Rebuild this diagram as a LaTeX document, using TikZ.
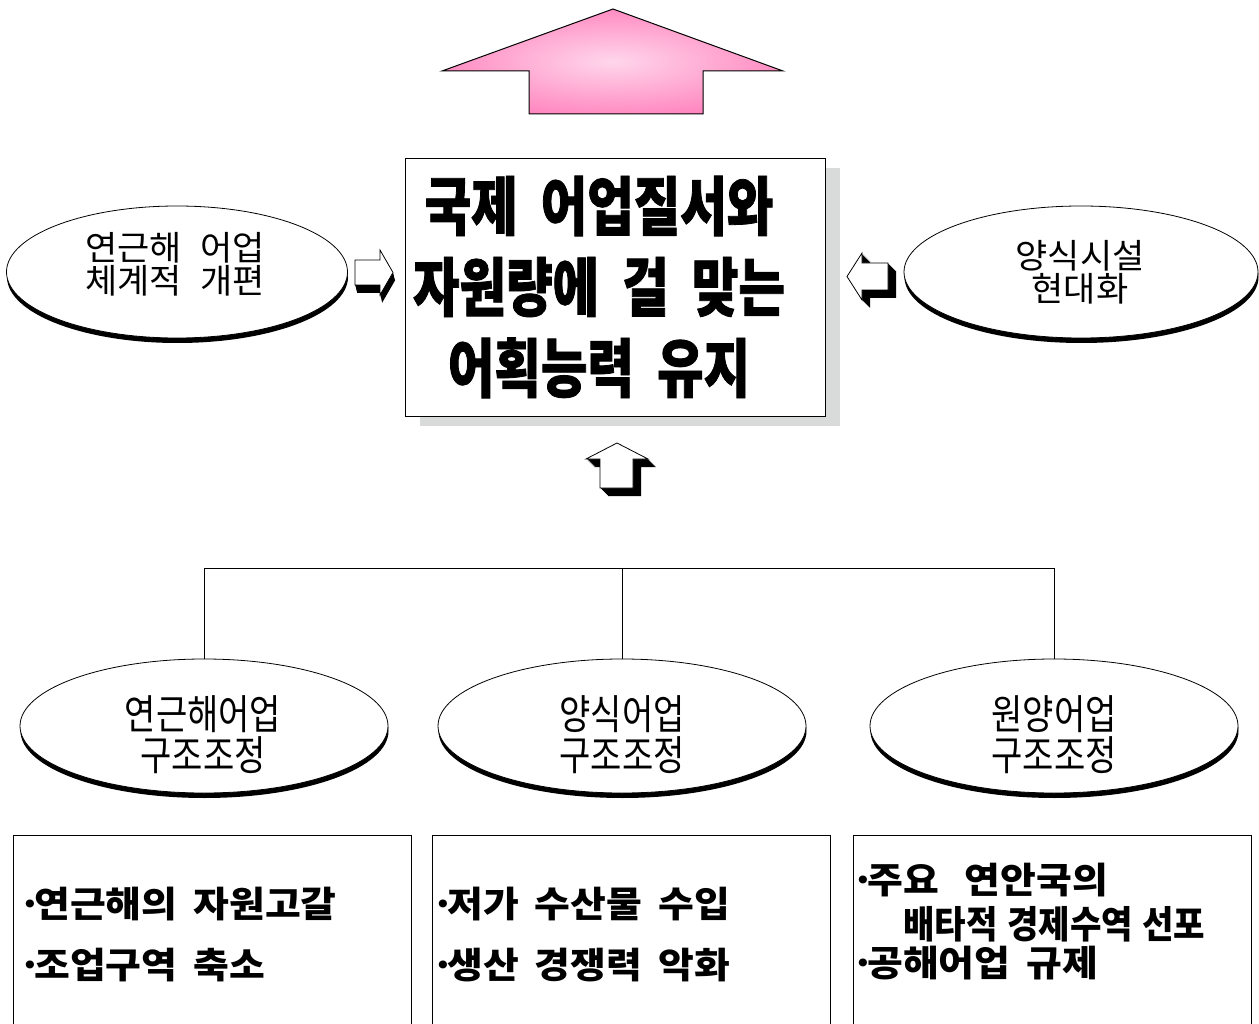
\documentclass[tikz,border=0pt]{standalone}
\usepackage{fontspec}
\usetikzlibrary{shapes.geometric,shadows}
\newfontfamily\titlefont[FakeStretch=0.79,WordSpace=2.0,FakeBold=1.2]{Noto Sans CJK KR}
\newfontfamily\elltopfont[FakeStretch=1.03,WordSpace=2.4]{Noto Sans CJK KR}
\newfontfamily\ellbotfont[FakeStretch=0.83]{Noto Sans CJK KR}
\newfontfamily\boxfont[FakeStretch=1.08,WordSpace=1.8]{Noto Sans CJK KR}
\newfontfamily\boxcondfont[FakeStretch=0.9,WordSpace=1.2]{Noto Sans CJK KR}
\newcommand\bul{\hbox to 9pt{\hss·\hss}}
\definecolor{shadowgray}{HTML}{D8DBD9}
\definecolor{pinkc}{HTML}{FFD6EB}
\definecolor{pinke}{HTML}{FF3C96}
\pgfdeclareradialshading{pinkrad}{\pgfpoint{0bp}{0bp}}{color(0bp)=(pinkc); color(52bp)=(pinke); color(75bp)=(pinke)}
\tikzset{
  oval/.style={ellipse, draw, fill=white, line width=0.8pt, inner sep=0pt,
    general shadow={fill=black, shadow xshift=0.5pt, shadow yshift=-5pt}},
  toptext/.style={align=center, inner sep=0pt, font=\elltopfont\fontsize{34}{33}\selectfont},
  bottext/.style={align=center, inner sep=0pt, font=\ellbotfont\fontsize{41}{41}\selectfont},
  listbox/.style={draw, line width=0.8pt, minimum width=398pt, minimum height=220pt, anchor=north west, inner sep=0pt},
  boxtext/.style={anchor=west, inner sep=0pt, font=\boxfont\bfseries\fontsize{36}{40}\selectfont},
  condtext/.style={anchor=west, inner sep=0pt, font=\boxcondfont\bfseries\fontsize{38}{40}\selectfont},
}
\begin{document}
\begin{tikzpicture}[x=1pt,y=-1pt,line width=0.8pt]
\useasboundingbox (0,0) rectangle (1259,1024);

% top pink arrow
\shadedraw[shading=pinkrad, draw=black, line width=1pt] (613,9) -- (783,71) -- (703,71) -- (703,114) -- (529,114) -- (529,71) -- (442,71) -- cycle;

% central goal box
\node[draw, fill=white, minimum width=420pt, minimum height=258pt, inner sep=0pt,
  general shadow={fill=shadowgray, shadow xshift=15pt, shadow yshift=-10pt}] (goal) at (615,287) {};
\node[align=center, inner sep=0pt, font=\titlefont\bfseries\fontsize{64}{81}\selectfont] (goalT) at (599,287)
  {국제 어업질서와\\자원량에 걸 맞는\\어획능력 유지};

% top ellipses
\node[oval, minimum width=341pt, minimum height=132pt] (coast) at (177,272) {};
\node[toptext] (coastT) at (175,264) {연근해 어업\\체계적 개편};
\node[oval, minimum width=354pt, minimum height=132pt] (aqua) at (1081,272) {};
\node[toptext] (aquaT) at (1080,272) {양식시설\\현대화};

% small 3D arrows
\foreach \k in {1,...,8}{\fill[shift={(0.25*\k,\k)}] (355,260) -- (380,260) -- (380,250) -- (393,272.5) -- (380,295) -- (380,285) -- (355,285) -- cycle;}
\draw[fill=white] (355,260) -- (380,260) -- (380,250) -- (393,272.5) -- (380,295) -- (380,285) -- (355,285) -- cycle;

\foreach \k in {1,...,8}{\fill[shift={(\k,\k)}] (888,263) -- (862,263) -- (862,253) -- (847,276.5) -- (862,300) -- (862,290) -- (888,290) -- cycle;}
\draw[fill=white] (888,263) -- (862,263) -- (862,253) -- (847,276.5) -- (862,300) -- (862,290) -- (888,290) -- cycle;

\foreach \k in {1,...,8}{\fill[shift={(\k,\k)}] (617,443) -- (648,459) -- (633,459) -- (633,488) -- (600,488) -- (600,459) -- (586,459) -- cycle;}
\draw[fill=white] (617,443) -- (648,459) -- (633,459) -- (633,488) -- (600,488) -- (600,459) -- (586,459) -- cycle;

% bottom ellipses
\node[oval, minimum width=368pt, minimum height=134pt] (e1) at (204,726) {};
\node[oval, minimum width=368pt, minimum height=134pt] (e2) at (622,726) {};
\node[oval, minimum width=368pt, minimum height=134pt] (e3) at (1054,726) {};
\node[bottext] (e1T) at (203,735) {연근해어업\\구조조정};
\node[bottext] (e2T) at (622,735) {양식어업\\구조조정};
\node[bottext] (e3T) at (1054,735) {원양어업\\구조조정};

% bracket connector
\coordinate (bar) at (622,568);
\draw (e1.north) -- (e1.north |- bar) -- (e3.north |- bar) -- (e3.north);
\draw (e2.north) -- (e2.north |- bar);

% bottom boxes
\node[listbox] (b1) at (13,835) {};
\node[listbox] (b2) at (432,835) {};
\node[listbox] (b3) at (853,835) {};

\node[boxtext] (t11) at (25,904) {\bul 연근해의 자원고갈};
\node[boxtext] (t12) at (25,965) {\bul 조업구역 축소};
\node[boxtext] (t21) at (438,904) {\bul 저가 수산물 수입};
\node[boxtext] (t22) at (438,965) {\bul 생산 경쟁력 악화};
\node[boxtext] (t31) at (858,880) {\bul 주요\hspace{26pt}연안국의};
\node[condtext] (t32) at (903,924) {배타적 경제수역 선포};
\node[boxtext] (t33) at (858,963) {\bul 공해어업 규제};
\end{tikzpicture}
\end{document}
